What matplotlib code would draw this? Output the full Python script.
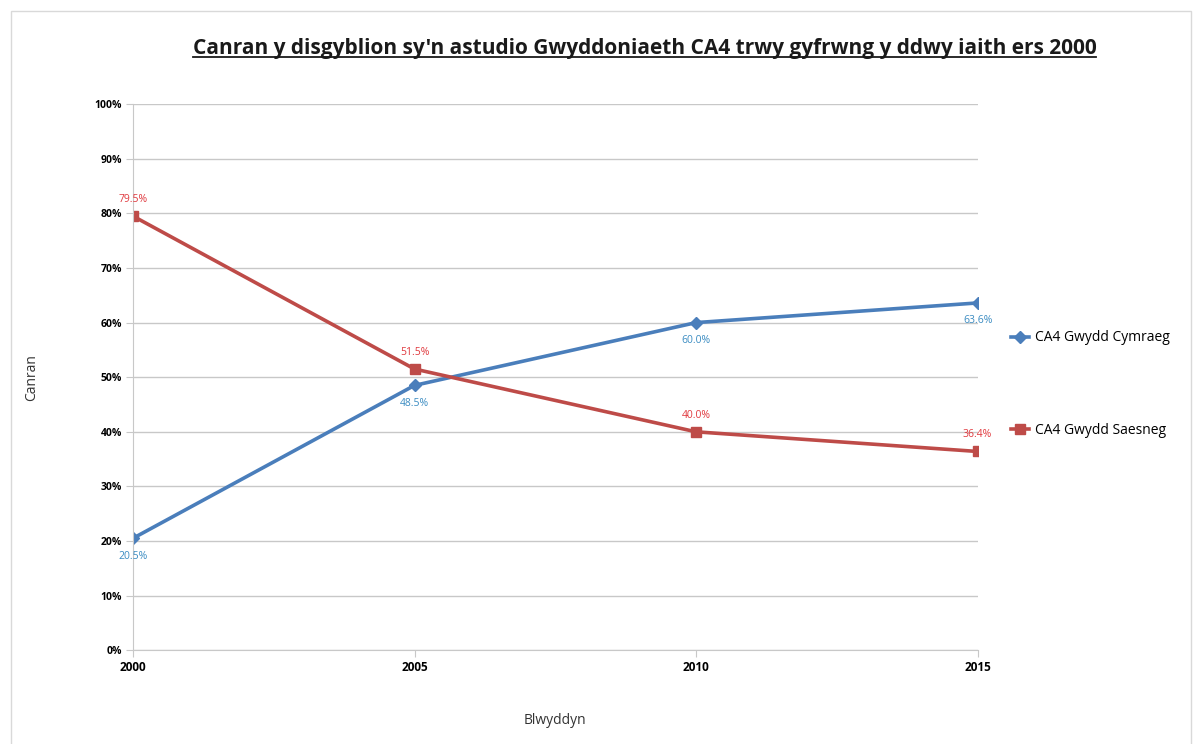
import matplotlib
matplotlib.use("Agg")
import matplotlib.pyplot as plt
from matplotlib.lines import Line2D
from matplotlib.patches import Rectangle

years = ["2000", "2005", "2010", "2015"]
cymraeg = [20.5, 48.5, 60.0, 63.6]
saesneg = [79.5, 51.5, 40.0, 36.4]
yticks = [0, 10, 20, 30, 40, 50, 60, 70, 80, 90, 100]

blue = "#4a7ebb"
red = "#be4b48"
blue_lbl = "#3b8cc2"
red_lbl = "#e0393e"

plt.rcParams["font.family"] = ["Open Sans", "DejaVu Sans"]

fig = plt.figure(figsize=(11.98, 7.44), dpi=100)
ax = fig.add_axes([0.111, 0.126, 0.705, 0.734])

x = list(range(len(years)))
ax.plot(x, cymraeg, color=blue, lw=2.6, marker="D", ms=6, label="CA4 Gwydd Cymraeg")
ax.plot(x, saesneg, color=red, lw=2.6, marker="s", ms=7.5, label="CA4 Gwydd Saesneg")

for i, v in enumerate(cymraeg):
    ax.annotate(f"{v:.1f}%", (x[i], v), xytext=(0, -9), textcoords="offset points",
                ha="center", va="top", fontsize=7.5, color=blue_lbl)
for i, v in enumerate(saesneg):
    ax.annotate(f"{v:.1f}%", (x[i], v), xytext=(0, 8), textcoords="offset points",
                ha="center", va="bottom", fontsize=7.5, color=red_lbl)

ax.set_xlim(0, 3)
ax.set_ylim(0, 100)
ax.set_yticks(yticks)
ax.set_yticklabels([f"{t}%" for t in yticks], fontsize=7.5, fontweight="bold")
ax.set_xticks(x)
ax.set_xticklabels(years, fontsize=8.5, fontweight="bold")
ax.grid(axis="y", color="#c8c8c8", lw=1)
ax.set_axisbelow(True)
for s in ["top", "right"]:
    ax.spines[s].set_visible(False)
ax.spines["left"].set_color("#c8c8c8")
ax.spines["bottom"].set_color("#c8c8c8")
ax.tick_params(axis="both", length=5, color="#c8c8c8", pad=3)

ax.set_ylabel("Canran", fontsize=10, color="#333333", labelpad=40)
ax.set_xlabel("Blwyddyn", fontsize=10, color="#333333", labelpad=28)

leg = ax.legend(loc="center left", bbox_to_anchor=(1.0, 0.487), frameon=False,
                fontsize=10, handlelength=1.3, handletextpad=0.4, labelspacing=5.6,
                borderaxespad=2.0)

title = fig.text(0.538, 0.935, "Canran y disgyblion sy'n astudio Gwyddoniaeth CA4 trwy gyfrwng y ddwy iaith ers 2000",
                 ha="center", va="center", fontsize=15, fontweight="bold", color="#1a1a1a")

# underline under the title
fig.canvas.draw()
bb = title.get_window_extent().transformed(fig.transFigure.inverted())
fig.add_artist(Line2D([bb.x0, bb.x1], [bb.y0 + 0.002, bb.y0 + 0.002], color="#1a1a1a", lw=1.3,
                      transform=fig.transFigure))

fig.add_artist(Rectangle((0.009, -0.01), 0.985, 0.995, transform=fig.transFigure,
                         fill=False, ec="#d9d9d9", lw=1))

fig.savefig("out.png", dpi=100)
